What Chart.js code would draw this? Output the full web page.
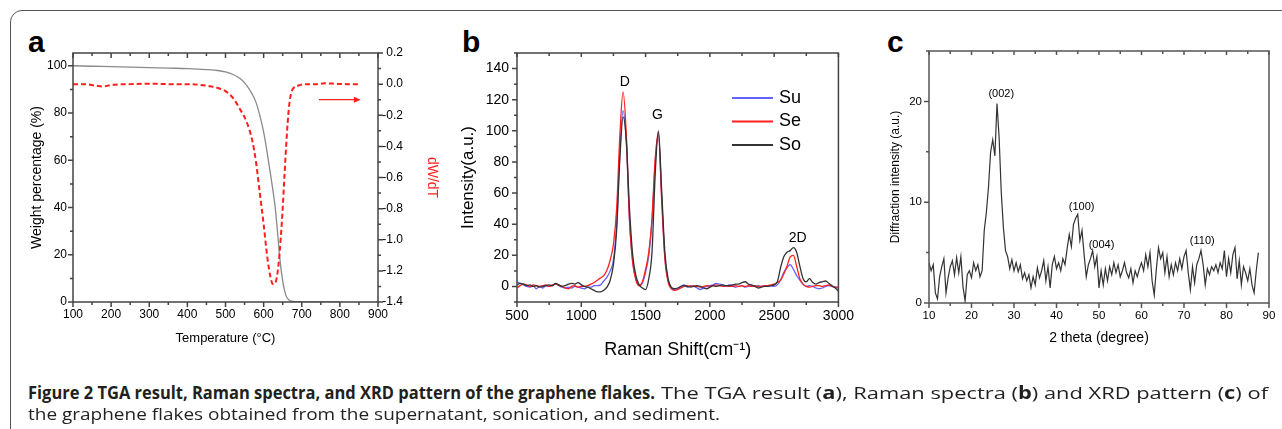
<!DOCTYPE html>
<html>
<head>
<meta charset="utf-8">
<script src="https://cdn.jsdelivr.net/npm/chart.js@4.4.1/dist/chart.umd.min.js"></script>
<style>
  html, body { margin: 0; padding: 0; background: #fff; }
  body { width: 1282px; height: 429px; position: relative; overflow: hidden; }
  #frame { position: absolute; left: 10px; top: 10px; width: 1300px; height: 450px; border: 1.5px solid #555; border-radius: 12px; box-sizing: border-box; }
  canvas { position: absolute; }
  .tag { position: absolute; font: bold 30px 'Liberation Sans', Arial, sans-serif; line-height: 30px; color: #000; }
  .cap { position: absolute; white-space: nowrap; font-family: 'Open Sans', 'Noto Sans', sans-serif; font-size: 17px; line-height: 21px; color: #231f20; transform-origin: 0 50%; }
  .cap b { font-weight: 700; }
</style>
</head>
<body>
<div id="frame"></div>
<span class="tag" style="left:28px;top:27px">a</span>
<span class="tag" style="left:462px;top:27px">b</span>
<span class="tag" style="left:887px;top:27px">c</span>
<canvas id="tga" width="450" height="360" style="left:0;top:20px"></canvas>
<canvas id="raman" width="430" height="360" style="left:430px;top:20px"></canvas>
<canvas id="xrd" width="422" height="360" style="left:860px;top:20px"></canvas>
<div class="cap" id="cap1a" style="left:28px;top:382px"><b>Figure 2 TGA result, Raman spectra, and XRD pattern of the graphene flakes.</b></div>
<div class="cap" id="cap1b" style="left:661px;top:382px">The TGA result (<b>a</b>), Raman spectra (<b>b</b>) and XRD pattern (<b>c</b>) of</div>
<div class="cap" id="cap2" style="left:28px;top:403px">the graphene flakes obtained from the supernatant, sonication, and sediment.</div>
<script>
// ---- panel a: TGA ----
const tgaTemp = [100, 150, 200, 250, 300, 350, 400, 450, 480, 500, 520, 540, 555, 570, 580, 590, 600, 610, 620, 630, 636, 641, 646, 652, 658, 664, 670, 680, 700, 750, 800];
const tgaWeight = [100, 99.8, 99.6, 99.4, 99.2, 99.0, 98.8, 98.4, 98.0, 97.4, 96.3, 94.4, 91.8, 88.0, 84.5, 79.0, 72.0, 62.5, 52.0, 40.5, 30.5, 21.0, 13.5, 7.0, 3.0, 1.2, 0.5, 0.2, 0.1, 0, 0];
const dtgTemp = [100, 130, 160, 180, 200, 250, 300, 350, 400, 450, 480, 500, 520, 540, 555, 570, 580, 590, 600, 610, 618, 624, 630, 636, 642, 648, 654, 660, 666, 672, 680, 690, 710, 740, 760, 790, 820, 850];
const dtgValue = [0, 0, -0.01, -0.015, -0.005, 0, 0.003, 0, 0, -0.01, -0.025, -0.045, -0.09, -0.17, -0.24, -0.36, -0.5, -0.7, -0.9, -1.12, -1.24, -1.285, -1.28, -1.22, -1.08, -0.88, -0.62, -0.36, -0.16, -0.06, -0.02, -0.01, 0, 0, 0.005, 0.002, 0, 0];
const tempTicks = [100, 200, 300, 400, 500, 600, 700, 800, 900];
const weightTicks = [0, 20, 40, 60, 80, 100];
const dtgTicks = [-1.4, -1.2, -1.0, -0.8, -0.6, -0.4, -0.2, 0.0, 0.2];

// ---- panel b: Raman ----
const ramanShift = [
  500, 525, 550, 575, 600, 625, 650, 675, 700, 725,
  750, 775, 800, 825, 850, 875, 900, 925, 950, 975,
  1000, 1025, 1050, 1075, 1100, 1125, 1150, 1175, 1200, 1225,
  1250, 1275, 1300, 1325, 1350, 1375, 1400, 1425, 1450, 1475,
  1500, 1525, 1550, 1575, 1600, 1625, 1650, 1675, 1700, 1725,
  1750, 1775, 1800, 1825, 1850, 1875, 1900, 1925, 1950, 1975,
  2000, 2025, 2050, 2075, 2100, 2125, 2150, 2175, 2200, 2225,
  2250, 2275, 2300, 2325, 2350, 2375, 2400, 2425, 2450, 2475,
  2500, 2525, 2550, 2575, 2600, 2625, 2650, 2675, 2700, 2725,
  2750, 2775, 2800, 2825, 2850, 2875, 2900, 2925, 2950, 2975,
  3000];
const ramanSu = [
  3, 2, 1, 0, -0.5, 0.5, -1.5, 0, -1, 0.5,
  0, 0.5, 1.5, 0.5, -0.5, -1, -0.5, -1, 0, -0.5,
  -1, -1.5, -0.5, -0.5, 0.5, 0.5, 1, 3.5, 6, 10,
  17, 40, 86, 113, 93, 43, 16, 5, 0.5, 2,
  9, 20, 42, 80, 98, 58, 19, 4, -1, -2,
  -1.5, 0, 1, -0.5, 0.5, 0, -1, -2, -1, 0,
  0.5, 1, 2, 1.5, 1, 0, 1, 0.5, -0.5, 0,
  0.5, -0.5, 0, 0.5, 0, 0.5, 0, 0.5, 0, 0.5,
  0, 1, 4, 9, 12, 14, 11, 7, 4, 1.5,
  0, 0.5, 0, -1, -1.5, -1, 0, 0.5, 0, -0.5,
  -1];
const ramanSe = [
  -1, 0.5, 1.5, 1, 0, 1, 0.5, 0, 0.5, 1,
  0, 1, 1.5, 1, 0, -1, -1.5, 0, 0.5, -0.5,
  0, 0, 0.5, 1.5, 2.5, 4, 5.5, 7, 10.5, 17,
  27, 50, 97, 125, 98, 42, 15, 4, 0.5, 3,
  11, 22, 44, 82, 99, 56, 18, 3, -1.5, -2.5,
  -2, -1, 0, 0.5, 0, 0.5, 0, -0.5, 0, 0.5,
  0, 0.5, 1, 0.5, 0, 0.5, 0, 0, 0.5, 0,
  0.5, 0, 0.5, 0, 0.5, 0, 0, 0.5, 0.5, 1,
  1.5, 2.5, 4, 8, 13, 19, 20, 13, 5, 1.5,
  0, -0.5, 0, 0.5, 0.5, 0, 0.5, 1, 0, -0.5,
  -0.5];
const ramanSo = [
  1, 2, 1.5, 0.5, 1, 0, 0.5, -0.5, 0, 0.5,
  1, 0.5, 2, 1, 0, 0.5, 1.5, 2, 1.5, 2.5,
  1, 0, -0.5, -1.5, -2.5, -3.5, -3.5, -2.5, -0.5, 4,
  14, 36, 82, 109, 94, 50, 20, 7, 1, -1,
  -2, 5, 22, 72, 100, 62, 22, 5, -0.5, -1.5,
  -1, 0, 0.5, 0, -0.5, 0, 0.5, 0, -1, -1.5,
  -0.5, 0.5, 0, 0.5, 1, 0.5, 0.5, 1, 1.5, 1.5,
  2.5, 3, 1.5, 1, 0, -1, -0.5, 0, 0, 0.5,
  1, 3, 12, 19, 22, 23, 25, 22, 13, 5,
  3, 5, 2.5, 1.5, 2.5, 3, 3.5, 2, 0.5, -1,
  -3];
const ramanSeries = ['Su', 'Se', 'So'];
const ramanPeaks = ['D', 'G', '2D'];
const shiftTicks = [500, 1000, 1500, 2000, 2500, 3000];
const intensityTicks = [0, 20, 40, 60, 80, 100, 120, 140];

// ---- panel c: XRD ----
const twoTheta = [
  10, 10.5, 11, 11.5, 12, 12.5, 13, 13.5, 14, 14.5,
  15, 15.5, 16, 16.5, 17, 17.5, 18, 18.5, 19, 19.5,
  20, 20.5, 21, 21.5, 22, 22.5, 23, 23.5, 24, 24.5,
  25, 25.5, 26, 26.5, 27, 27.5, 28, 28.5, 29, 29.5,
  30, 30.5, 31, 31.5, 32, 32.5, 33, 33.5, 34, 34.5,
  35, 35.5, 36, 36.5, 37, 37.5, 38, 38.5, 39, 39.5,
  40, 40.5, 41, 41.5, 42, 42.5, 43, 43.5, 44, 44.5,
  45, 45.5, 46, 46.5, 47, 47.5, 48, 48.5, 49, 49.5,
  50, 50.5, 51, 51.5, 52, 52.5, 53, 53.5, 54, 54.5,
  55, 55.5, 56, 56.5, 57, 57.5, 58, 58.5, 59, 59.5,
  60, 60.5, 61, 61.5, 62, 62.5, 63, 63.5, 64, 64.5,
  65, 65.5, 66, 66.5, 67, 67.5, 68, 68.5, 69, 69.5,
  70, 70.5, 71, 71.5, 72, 72.5, 73, 73.5, 74, 74.5,
  75, 75.5, 76, 76.5, 77, 77.5, 78, 78.5, 79, 79.5,
  80, 80.5, 81, 81.5, 82, 82.5, 83, 83.5, 84, 84.5,
  85, 85.5, 86, 86.5, 87, 87.5];
const xrdIntensity = [
  4.0, 3.2, 3.8, 1.0, 0.4, 2.6, 3.6, 4.4, 1.0, 2.5,
  3.6, 4.2, 2.8, 4.5, 3.0, 4.6, 1.6, 0.2, 2.8, 3.2,
  2.5, 4.0, 3.2, 3.8, 2.6, 3.2, 7.2, 9.0, 11.5, 15.0,
  16.2, 14.6, 19.8, 16.4, 11.0, 7.5, 5.2, 4.6, 3.4, 4.3,
  3.2, 4.0, 3.1, 3.8, 2.4, 3.0, 2.2, 2.8, 1.5, 2.6,
  1.8, 3.5, 2.5, 3.2, 4.2, 2.2, 3.6, 1.5, 3.8, 4.6,
  3.4, 4.0, 3.2, 4.4, 3.8, 5.4, 6.8, 5.6, 7.8, 8.4,
  8.8, 6.2, 7.2, 4.8, 2.6, 3.8, 4.4, 5.2, 3.6, 4.6,
  1.5, 3.2, 1.8, 3.4, 2.2, 3.6, 2.8, 4.0, 3.0, 3.8,
  2.6, 3.2, 4.0, 3.0, 2.5, 3.4, 2.0, 3.2, 2.6, 3.4,
  4.0, 3.2, 4.8, 3.6, 5.0, 2.2, 0.8, 3.4, 5.5, 4.4,
  5.0, 3.0, 4.6, 2.6, 3.8, 2.8, 4.0, 3.2, 4.4, 3.4,
  4.6, 5.2, 3.0, 1.3, 3.6, 2.0, 3.8, 4.4, 5.2, 3.8,
  1.8, 3.4, 2.8, 3.6, 3.2, 3.8, 3.0, 4.0, 3.4, 5.2,
  2.6, 4.4, 3.0, 4.8, 5.5, 2.4, 4.2, 1.8, 3.6, 3.0,
  2.2, 3.4, 1.8, 1.0, 3.2, 5.0];
const xrdPeaks = ['(002)', '(100)', '(004)', '(110)'];
const thetaTicks = [10, 20, 30, 40, 50, 60, 70, 80, 90];
const diffTicks = [0, 10, 20];

Chart.defaults.font.family = "'Liberation Sans', Arial, sans-serif";
Chart.defaults.color = '#000';
Chart.defaults.animation = false;
Chart.defaults.plugins.legend.display = false;
Chart.defaults.plugins.tooltip.enabled = false;
Chart.defaults.elements.point.radius = 0;

function points(xs, ys) {
  return xs.map((x, i) => ({ x: x, y: ys[i] }));
}
function midpoints(arr) {
  return arr.slice(1).map((v, i) => (v + arr[i]) / 2);
}
function fixSize(px) {
  return function (scale) {
    if (scale.isHorizontal()) scale.height = px; else scale.width = px;
  };
}
function useTicks(values) {
  return function (scale) { scale.ticks = values.map(v => ({ value: v })); };
}
function axis(extra) {
  return Object.assign({
    type: 'linear',
    grid: { display: false, drawTicks: false },
    border: { display: false }
  }, extra);
}
const plain = v => String(v);

// plot frame plus major / minor tick marks (len > 0 points outward)
const frameTicks = {
  id: 'frameTicks',
  afterDatasetsDraw(chart, args, opts) {
    const { ctx, chartArea: a } = chart;
    ctx.save();
    ctx.strokeStyle = opts.color;
    ctx.lineWidth = opts.lineWidth;
    ctx.strokeRect(a.left, a.top, a.right - a.left, a.bottom - a.top);
    ctx.beginPath();
    for (const m of opts.marks) {
      const s = chart.scales[m.scale];
      for (const v of m.values) {
        const p = s.getPixelForValue(v);
        if (m.side === 'bottom') { ctx.moveTo(p, a.bottom); ctx.lineTo(p, a.bottom + m.len); }
        else if (m.side === 'top') { ctx.moveTo(p, a.top); ctx.lineTo(p, a.top - m.len); }
        else if (m.side === 'left') { ctx.moveTo(a.left, p); ctx.lineTo(a.left - m.len, p); }
        else { ctx.moveTo(a.right, p); ctx.lineTo(a.right + m.len, p); }
      }
    }
    ctx.stroke();
    ctx.restore();
  }
};

const textLabels = {
  id: 'textLabels',
  afterDatasetsDraw(chart, args, opts) {
    const { ctx } = chart;
    const sx = chart.scales.x, sy = chart.scales.y;
    ctx.save();
    ctx.font = opts.font;
    ctx.fillStyle = opts.color;
    ctx.textAlign = 'center';
    ctx.textBaseline = 'middle';
    for (const it of opts.items) ctx.fillText(it.text, sx.getPixelForValue(it.x), sy.getPixelForValue(it.y));
    ctx.restore();
  }
};

const lineLegend = {
  id: 'lineLegend',
  afterDatasetsDraw(chart, args, opts) {
    const { ctx, chartArea: a } = chart;
    ctx.save();
    ctx.font = opts.font;
    ctx.textBaseline = 'middle';
    ctx.fillStyle = '#000';
    chart.data.datasets.forEach((ds, i) => {
      const x = a.left + opts.left;
      const y = a.top + opts.top + i * opts.rowGap;
      ctx.strokeStyle = ds.borderColor;
      ctx.lineWidth = 2;
      ctx.beginPath();
      ctx.moveTo(x, y);
      ctx.lineTo(x + opts.lineLen, y);
      ctx.stroke();
      ctx.fillText(ds.label, x + opts.lineLen + opts.gap, y);
    });
    ctx.restore();
  }
};

// right-hand axis title, drawn beside the tick labels
const sideTitle = {
  id: 'sideTitle',
  afterDraw(chart, args, opts) {
    const { ctx, chartArea: a } = chart;
    ctx.save();
    ctx.translate(a.right + opts.offset, (a.top + a.bottom) / 2);
    ctx.rotate(Math.PI / 2);
    ctx.font = opts.font;
    ctx.fillStyle = opts.color;
    ctx.textAlign = 'center';
    ctx.textBaseline = 'middle';
    ctx.fillText(opts.text, 0, 0);
    ctx.restore();
  }
};

const axisArrow = {
  id: 'axisArrow',
  afterDatasetsDraw(chart, args, opts) {
    const { ctx } = chart;
    const sx = chart.scales.x, sy = chart.scales[opts.yAxis];
    const x1 = sx.getPixelForValue(opts.from), x2 = sx.getPixelForValue(opts.to);
    const y = sy.getPixelForValue(opts.at);
    ctx.save();
    ctx.strokeStyle = opts.color;
    ctx.fillStyle = opts.color;
    ctx.lineWidth = 1.2;
    ctx.beginPath();
    ctx.moveTo(x1, y);
    ctx.lineTo(x2 - 6, y);
    ctx.stroke();
    ctx.beginPath();
    ctx.moveTo(x2, y);
    ctx.lineTo(x2 - 7, y - 3);
    ctx.lineTo(x2 - 7, y + 3);
    ctx.closePath();
    ctx.fill();
    ctx.restore();
  }
};

// ---- chart a ----
new Chart(document.getElementById('tga'), {
  type: 'line',
  data: {
    datasets: [{
      data: points(dtgTemp, dtgValue),
      yAxisID: 'y1',
      borderColor: '#ff1e1e',
      borderWidth: 2,
      borderDash: [5, 3],
      cubicInterpolationMode: 'monotone'
    }, {
      data: points(tgaTemp, tgaWeight),
      yAxisID: 'y',
      borderColor: '#8a8a8a',
      borderWidth: 1.3,
      cubicInterpolationMode: 'monotone'
    }]
  },
  options: {
    responsive: false,
    layout: { padding: { top: 33, left: 0, right: 47, bottom: 0 } },
    scales: {
      x: axis({
        position: 'bottom', min: 100, max: 900,
        afterBuildTicks: useTicks(tempTicks), afterFit: fixSize(78),
        ticks: { autoSkip: false, maxRotation: 0, padding: 5, font: { size: 12 }, callback: plain },
        title: { display: true, text: 'Temperature (°C)', font: { size: 13 }, padding: { bottom: 34 } }
      }),
      y: axis({
        position: 'left', min: 0, max: 105.4,
        afterBuildTicks: useTicks(weightTicks), afterFit: fixSize(73),
        ticks: { autoSkip: false, padding: 6, font: { size: 12 }, callback: plain },
        title: { display: true, text: 'Weight percentage (%)', font: { size: 14 }, padding: { top: 29 } }
      }),
      y1: axis({
        position: 'right', min: -1.4, max: 0.2,
        afterBuildTicks: useTicks(dtgTicks), afterFit: fixSize(25),
        ticks: { autoSkip: false, padding: 4, crossAlign: 'far', font: { size: 12 }, callback: v => v.toFixed(1) }
      })
    },
    plugins: {
      frameTicks: {
        color: '#444', lineWidth: 1.5,
        marks: [
          { scale: 'x', side: 'bottom', values: tempTicks, len: 5 },
          { scale: 'x', side: 'bottom', values: midpoints(tempTicks), len: 3 },
          { scale: 'x', side: 'top', values: tempTicks, len: -5 },
          { scale: 'x', side: 'top', values: midpoints(tempTicks), len: -3 },
          { scale: 'y', side: 'left', values: weightTicks, len: 5 },
          { scale: 'y', side: 'left', values: midpoints(weightTicks), len: 3 },
          { scale: 'y1', side: 'right', values: dtgTicks, len: 5 },
          { scale: 'y1', side: 'right', values: midpoints(dtgTicks), len: 3 }
        ]
      },
      sideTitle: { text: 'dW/dT', color: '#ff1e1e', font: "14px 'Liberation Sans', Arial, sans-serif", offset: 54 },
      axisArrow: { yAxis: 'y1', from: 745, to: 855, at: -0.1, color: '#ff1e1e' }
    }
  },
  plugins: [frameTicks, sideTitle, axisArrow]
});

// ---- chart b ----
const ramanColors = ['#6262ff', '#ff2020', '#333333'];
const ramanValues = [ramanSu, ramanSe, ramanSo];
new Chart(document.getElementById('raman'), {
  type: 'line',
  data: {
    datasets: ramanSeries.map((name, i) => ({
      label: name,
      data: points(ramanShift, ramanValues[i]),
      borderColor: ramanColors[i],
      borderWidth: 1.3,
      cubicInterpolationMode: 'monotone',
      order: 2 - i
    }))
  },
  options: {
    responsive: false,
    layout: { padding: { top: 33, left: 0, right: 18, bottom: 0 } },
    scales: {
      x: axis({
        position: 'bottom', min: 500, max: 3000,
        afterBuildTicks: useTicks(shiftTicks), afterFit: fixSize(78),
        ticks: { autoSkip: false, maxRotation: 0, padding: 6, font: { size: 14 }, callback: plain },
        title: { display: true, text: 'Raman Shift(cm⁻¹)', font: { size: 18 }, padding: { bottom: 19 } }
      }),
      y: axis({
        position: 'left', min: -10, max: 150,
        afterBuildTicks: useTicks(intensityTicks), afterFit: fixSize(87),
        ticks: { autoSkip: false, padding: 8, font: { size: 14 }, callback: plain },
        title: { display: true, text: 'Intensity(a.u.)', font: { size: 17 }, padding: { top: 28 } }
      })
    },
    plugins: {
      frameTicks: {
        color: '#444', lineWidth: 1.5,
        marks: [
          { scale: 'x', side: 'bottom', values: shiftTicks, len: 5 },
          { scale: 'x', side: 'bottom', values: midpoints(shiftTicks), len: 3 },
          { scale: 'x', side: 'top', values: shiftTicks, len: -4 },
          { scale: 'x', side: 'top', values: midpoints(shiftTicks), len: -3 },
          { scale: 'y', side: 'left', values: intensityTicks, len: 5 },
          { scale: 'y', side: 'left', values: midpoints(intensityTicks).concat([-10, 150]), len: 3 }
        ]
      },
      textLabels: {
        font: "14px 'Liberation Sans', Arial, sans-serif", color: '#000',
        items: [
          { text: ramanPeaks[0], x: 1338, y: 131 },
          { text: ramanPeaks[1], x: 1593, y: 110 },
          { text: ramanPeaks[2], x: 2683, y: 31 }
        ]
      },
      lineLegend: { font: "18px 'Liberation Sans', Arial, sans-serif", left: 215, top: 45, rowGap: 23.5, lineLen: 41, gap: 6 }
    }
  },
  plugins: [frameTicks, textLabels, lineLegend]
});

// ---- chart c ----
new Chart(document.getElementById('xrd'), {
  type: 'line',
  data: {
    datasets: [{
      data: points(twoTheta, xrdIntensity),
      borderColor: '#333333',
      borderWidth: 1.2
    }]
  },
  options: {
    responsive: false,
    layout: { padding: { top: 31, left: 0, right: 13, bottom: 0 } },
    scales: {
      x: axis({
        position: 'bottom', min: 10, max: 90,
        afterBuildTicks: useTicks(thetaTicks), afterFit: fixSize(77),
        ticks: { autoSkip: false, maxRotation: 0, padding: 6, font: { size: 11.5 }, callback: plain },
        title: { display: true, text: '2 theta (degree)', font: { size: 14 }, padding: { bottom: 33.6 } }
      }),
      y: axis({
        position: 'left', min: 0, max: 25,
        afterBuildTicks: useTicks(diffTicks), afterFit: fixSize(69),
        ticks: { autoSkip: false, padding: 7, font: { size: 11.5 }, callback: plain },
        title: { display: true, text: 'Diffraction intensity (a.u.)', font: { size: 12 }, padding: { top: 28 } }
      })
    },
    plugins: {
      frameTicks: {
        color: '#555', lineWidth: 1.5,
        marks: [
          { scale: 'x', side: 'bottom', values: thetaTicks, len: 5 },
          { scale: 'x', side: 'bottom', values: midpoints(thetaTicks), len: 3 },
          { scale: 'x', side: 'top', values: thetaTicks, len: -4 },
          { scale: 'x', side: 'top', values: midpoints(thetaTicks), len: -3 },
          { scale: 'y', side: 'left', values: diffTicks, len: 5 },
          { scale: 'y', side: 'left', values: midpoints(diffTicks).concat([25]), len: 3 }
        ]
      },
      textLabels: {
        font: "11px 'Liberation Sans', Arial, sans-serif", color: '#000',
        items: [
          { text: xrdPeaks[0], x: 27.0, y: 20.7 },
          { text: xrdPeaks[1], x: 45.9, y: 9.5 },
          { text: xrdPeaks[2], x: 50.6, y: 5.8 },
          { text: xrdPeaks[3], x: 74.3, y: 6.2 }
        ]
      }
    }
  },
  plugins: [frameTicks, textLabels]
});

// stretch caption pieces to the widths they take in the figure
function fitLine(id, width) {
  const el = document.getElementById(id);
  el.style.transform = 'scaleX(' + (width / el.getBoundingClientRect().width) + ')';
}
fitLine('cap1a', 627);
fitLine('cap1b', 607);
fitLine('cap2', 692);
</script>
</body>
</html>
